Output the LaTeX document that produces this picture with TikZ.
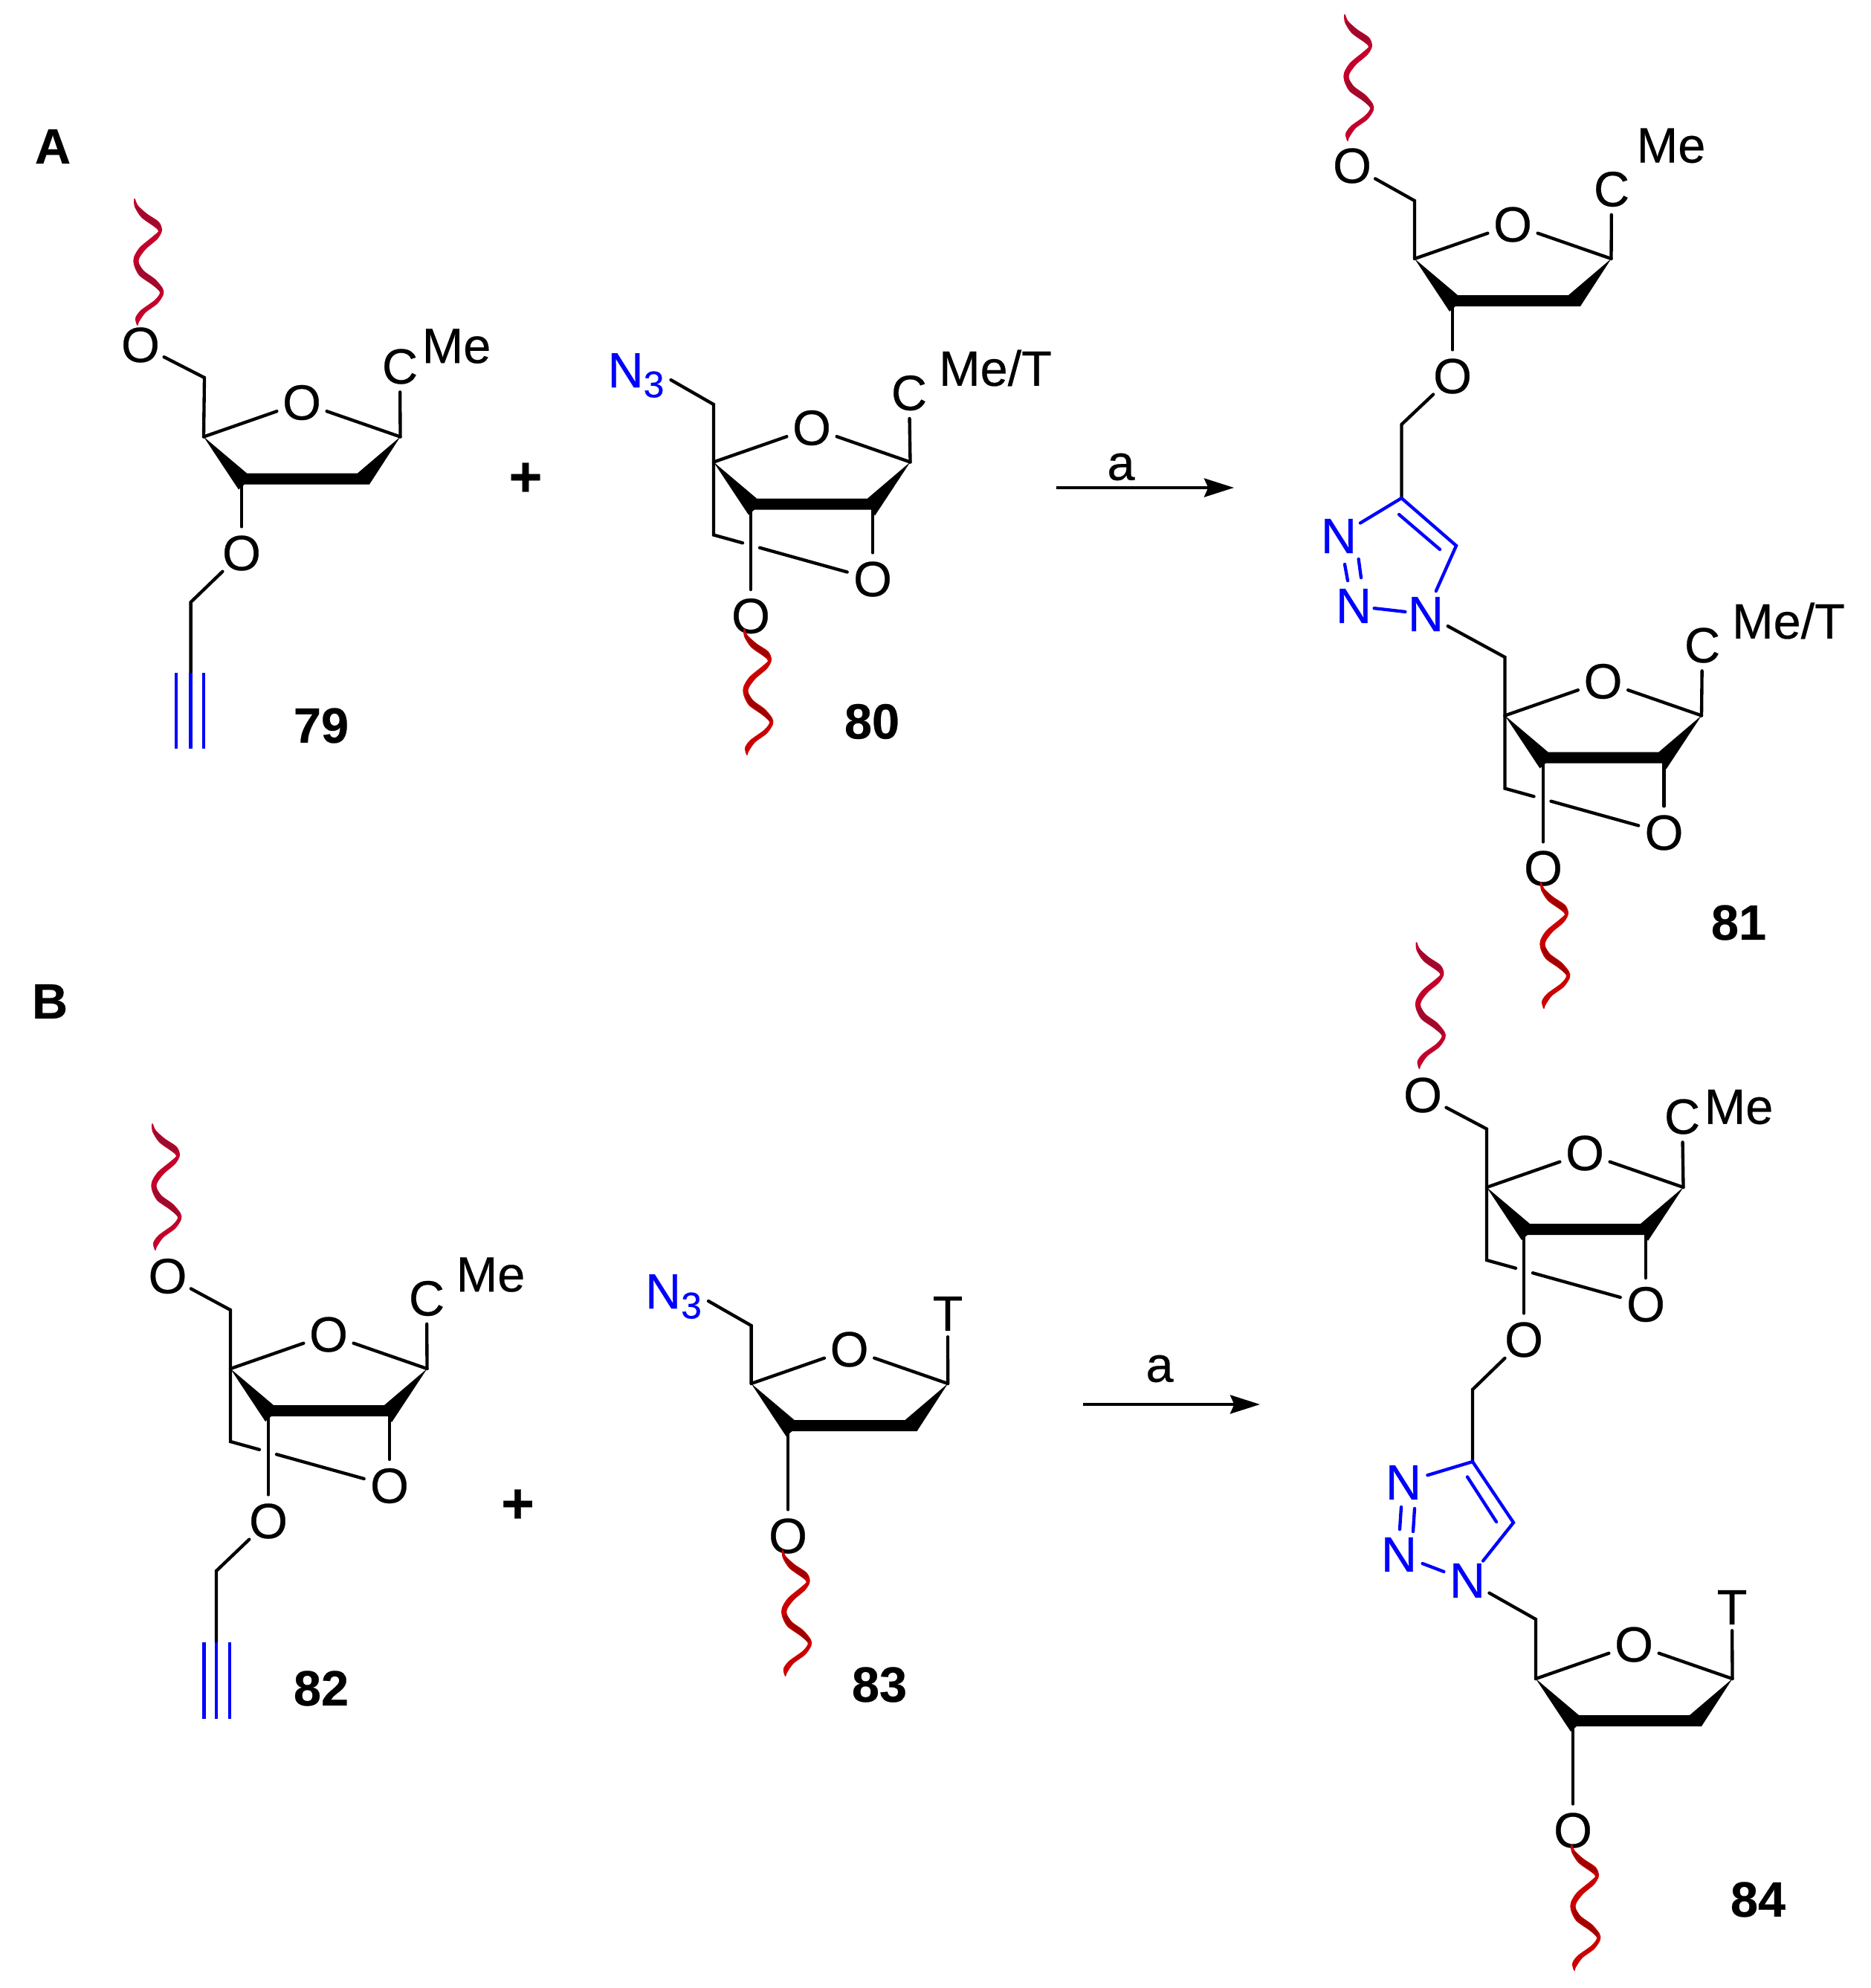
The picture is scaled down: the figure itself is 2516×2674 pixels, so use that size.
\documentclass[tikz,border=0pt]{standalone}
\usepackage{fontspec}
\setmainfont{Liberation Sans}[FakeBold=0.4]
\usetikzlibrary{arrows.meta}
\definecolor{wigAd}{HTML}{9E0A2C}
\definecolor{wigAb}{HTML}{C4002A}
\definecolor{wigBd}{HTML}{A00000}
\definecolor{wigBb}{HTML}{CC0000}
\definecolor{azure}{HTML}{0000FF}
\tikzset{
  atom/.style={circle,inner sep=0pt,font=\fontsize{20}{24}\selectfont},
  bluatom/.style={atom,text=azure},
  sublabel/.style={inner sep=0pt,font=\fontsize{20}{24}\selectfont},
  azide/.style={inner sep=0pt,text=azure,font=\fontsize{20}{24}\selectfont},
  numlabel/.style={inner sep=0pt,font=\fontsize{20}{24}\selectfont\bfseries},
  pluslabel/.style={inner sep=0pt,font=\fontsize{23}{24}\selectfont\bfseries},
  bond/.style={line width=1.3pt,line cap=round,line join=miter},
  blubond/.style={bond,draw=azure},
  triple/.style={line width=1.3pt,draw=azure},
  rxn/.style={line width=1.25pt,-{Stealth[length=12pt,width=7.5pt,inset=1.6pt]}},
  ribbon/.style={line width=0.55pt,line join=round}
}
% wiggle: x, y, dark colour, bright colour
\newcommand{\wig}[4]{%
\begin{scope}[shift={(#1,#2)}]
\filldraw[ribbon,#4] plot[smooth] coordinates {(0,0)(4,9)(16,20)(32,31)(36,42)(30,53)(15,66)(6,78)(5,86)(12,97)(27,108)(37,120)(38,128)(30,140)(14,152)(5,165)(4,169)}
  -- plot[smooth] coordinates {(4,169)(2,160)(9,150)(28,136)(35,125)(25,115)(7,102)(0,88)(0,78)(8,65)(26,50)(33,43)(28,37)(10,24)(1,10)(0,0)} -- cycle;
\fill[#3] (4,9)--(16,20)--(32,31)--(35,38)--(28,37)--(10,24)--(1,10)--cycle;
\fill[#3] (5,86)--(12,97)--(27,108)--(37,120)--(34,124)--(25,115)--(7,102)--(1,90)--cycle;
\end{scope}}
% common part of a sugar ring: prefix, x, y of C4'
\newcommand{\ringtop}[3]{%
\coordinate (#1four) at (#2,#3);
\coordinate (#1one) at (#2+264.5,#3);
\coordinate (#1mid) at (#2,#3+60);
\node[atom] (#1O) at (#2+132,#3-46) {O};
\draw[bond] (#1four) -- (#1O);
\draw[bond] (#1O) -- (#1one);}
% deoxyribose ring
\newcommand{\riboring}[3]{%
\ringtop{#1}{#2}{#3}
\fill (#2,#3) -- (#2+58,#3+49) -- (#2+207,#3+49) -- (#2+264.5,#3) -- (#2+223,#3+64) -- (#2+55,#3+64) -- (#2+47,#3+71) -- cycle;}
% locked ring with its bridge
\newcommand{\lockring}[3]{%
\ringtop{#1}{#2}{#3}
\fill (#2,#3) -- (#2+58,#3+49) -- (#2+207,#3+49) -- (#2+264.5,#3) -- (#2+217,#3+72) -- (#2+212,#3+64) -- (#2+55,#3+64) -- (#2+47,#3+71) -- cycle;
\coordinate (#1six) at (#2,#3+98);
\coordinate (#1brka) at (#2+39,#3+108.8);
\coordinate (#1brkb) at (#2+62,#3+115.2);
\node[atom] (#1Ob) at (#2+214,#3+157.5) {O};
\draw[bond] (#1four) -- (#1six) -- (#1brka);
\draw[bond] (#1brkb) -- (#1Ob);
\draw[bond] (#1Ob |- #1mid) -- (#1Ob);}
\begin{document}
\begin{tikzpicture}[x=0.3pt,y=-0.3pt]
\useasboundingbox (0,0) rectangle (2516,2674);
\fill[white] (0,0) rectangle (2516,2674);

\node[numlabel] (labA) at (71,197) {A};
\node[numlabel] (labB) at (67,1347) {B};

% ---------- 79
\riboring{a}{274}{587.5}
\coordinate (acsix) at (275,508);
\node[atom] (aOf) at (189,464) {O};
\node[atom] (aOt) at (325,744) {O};
\node[atom] (aC) at (538,493) {C};
\node[sublabel] (aMe) at (614,465.6) {Me};
\coordinate (alink) at (256.6,810);
\coordinate (atrip) at (256.6,905);
\coordinate (atripa) at (237,905);
\coordinate (atripb) at (274,905);
\coordinate (atripc) at (256.6,1007);
\coordinate (atripd) at (237,1007);
\coordinate (atripe) at (274,1007);
\draw[bond] (aOf) -- (acsix) -- (afour);
\draw[bond] (aone) -- (aC);
\draw[bond] (aOt |- amid) -- (aOt);
\draw[bond] (aOt) -- (alink) -- (atrip);
\draw[triple] (atrip) -- (atripc);
\draw[triple] (atripa) -- (atripd);
\draw[triple] (atripb) -- (atripe);
\wig{181}{268}{wigAd}{wigAb}
\node[numlabel] (n79) at (432,976) {79};
\node[pluslabel] (plusA) at (707,645) {+};

% ---------- 80
\lockring{b}{960}{621.5}
\coordinate (bcsix) at (960,544);
\coordinate (bazend) at (902.5,511);
\node[azide] (bNt) at (855.5,505) {N\raisebox{-4pt}{\fontsize{15}{15}\selectfont 3}};
\node[atom] (bOt) at (1010,828.6) {O};
\node[atom] (bC) at (1223,528.6) {C};
\node[sublabel] (bMe) at (1339,495) {Me/T};
\draw[bond] (bazend) -- (bcsix) -- (bfour);
\draw[bond] (bone) -- (bC);
\draw[bond] (bOt |- bmid) -- (bOt);
\wig{1001}{846}{wigBd}{wigBb}
\node[numlabel] (n80) at (1173,970.5) {80};

% ---------- arrow A
\coordinate (arra) at (1421,656);
\coordinate (arrb) at (1660,656);
\draw[rxn] (arra) -- (arrb);
\node[sublabel] (laba) at (1508,628) {a};

% ---------- 81
\riboring{c}{1903}{348}
\coordinate (ccsix) at (1903,270);
\node[atom] (cOf) at (1819,223) {O};
\node[atom] (cOt) at (1954,506) {O};
\node[atom] (cC) at (2168,254.5) {C};
\node[sublabel] (cMe) at (2248,196) {Me};
\coordinate (clink) at (1885.4,571);
\coordinate (cCf) at (1885.4,670);
\coordinate (cCg) at (1959,734);
\coordinate (cdba) at (1882,692);
\coordinate (cdbb) at (1937,739);
\coordinate (cnna) at (1809,759);
\coordinate (cnnb) at (1813,781);
\coordinate (cnnc) at (1827.6,752);
\coordinate (cnnd) at (1831,777);
\node[bluatom] (cNa) at (1801,721) {N};
\node[bluatom] (cNb) at (1821,815) {N};
\node[bluatom] (cNc) at (1918,826) {N};
\draw[bond] (cOf) -- (ccsix) -- (cfour);
\draw[bond] (cone) -- (cC);
\draw[bond] (cOt |- cmid) -- (cOt);
\draw[bond] (cOt) -- (clink) -- (cCf);
\draw[blubond] (cNa) -- (cCf) -- (cCg) -- (cNc);
\draw[blubond,shorten >=-1.8pt,shorten <=-1.8pt] (cNb) -- (cNc);
\draw[blubond] (cdba) -- (cdbb);
\draw[blubond] (cnna) -- (cnnb);
\draw[blubond] (cnnc) -- (cnnd);
\wig{1809}{20}{wigAd}{wigAb}
\lockring{d}{2024.5}{962.5}
\coordinate (dcsix) at (2024.5,884);
\node[atom] (dOt) at (2076,1168) {O};
\node[atom] (dC) at (2290,868) {C};
\node[sublabel] (dMe) at (2406,835) {Me/T};
\draw[bond] (cNc) -- (dcsix) -- (dfour);
\draw[bond] (done) -- (dC);
\draw[bond] (dOt |- dmid) -- (dOt);
\wig{2073}{1187}{wigBd}{wigBb}
\node[numlabel] (n81) at (2339,1241) {81};

% ---------- 82
\lockring{e}{310}{1841}
\coordinate (ecsix) at (310,1762);
\node[atom] (eOf) at (225.5,1716.5) {O};
\node[atom] (eOt) at (361,2046) {O};
\node[atom] (eC) at (574,1746.5) {C};
\node[sublabel] (eMe) at (660,1714.5) {Me};
\coordinate (elink) at (291,2113);
\coordinate (etrip) at (291,2209);
\coordinate (etripa) at (274.5,2209);
\coordinate (etripb) at (309,2209);
\coordinate (etripc) at (291,2312);
\coordinate (etripd) at (274.5,2312);
\coordinate (etripe) at (309,2312);
\draw[bond] (eOf) -- (ecsix) -- (efour);
\draw[bond] (eone) -- (eC);
\draw[bond] (eOt |- emid) -- (eOt);
\draw[bond] (eOt) -- (elink) -- (etrip);
\draw[triple] (etrip) -- (etripc);
\draw[triple] (etripa) -- (etripd);
\draw[triple] (etripb) -- (etripe);
\wig{205}{1512}{wigAd}{wigAb}
\node[numlabel] (n82) at (432,2271) {82};
\node[pluslabel] (plusB) at (696.5,2026) {+};

% ---------- 83
\riboring{f}{1010.6}{1861}
\coordinate (fcsix) at (1010.6,1783);
\coordinate (fazend) at (953,1750);
\node[azide] (fNt) at (906,1744) {N\raisebox{-4pt}{\fontsize{15}{15}\selectfont 3}};
\node[atom] (fOt) at (1060,2066) {O};
\node[atom] (fT) at (1275,1767) {T};
\draw[bond] (fazend) -- (fcsix) -- (ffour);
\draw[bond] (fone) -- (fT);
\draw[bond] (fOt |- fmid) -- (fOt);
\wig{1052.7}{2085}{wigBd}{wigBb}
\node[numlabel] (n83) at (1183,2266) {83};

% ---------- arrow B
\coordinate (arrc) at (1457,1889);
\coordinate (arrd) at (1695,1889);
\draw[rxn] (arrc) -- (arrd);
\node[sublabel] (labb) at (1560,1841) {a};

% ---------- 84
\lockring{g}{2000}{1597}
\coordinate (gcsix) at (2000,1518.5);
\node[atom] (gOf) at (1914,1473) {O};
\node[atom] (gOt) at (2050,1802) {O};
\node[atom] (gC) at (2263,1502) {C};
\node[sublabel] (gMe) at (2339,1489) {Me};
\coordinate (glink) at (1981,1869);
\coordinate (gCf) at (1981,1966);
\coordinate (gCg) at (2036,2048);
\coordinate (gdba) at (1974,1986.5);
\coordinate (gdbb) at (2013,2047);
\coordinate (gnna) at (1885,2027);
\coordinate (gnnb) at (1883,2057);
\coordinate (gnnc) at (1903,2029);
\coordinate (gnnd) at (1901,2060);
\node[bluatom] (gNa) at (1888,1994) {N};
\node[bluatom] (gNb) at (1882,2091) {N};
\node[bluatom] (gNc) at (1974,2126) {N};
\draw[bond] (gOf) -- (gcsix) -- (gfour);
\draw[bond] (gone) -- (gC);
\draw[bond] (gOt |- gmid) -- (gOt);
\draw[bond] (gOt) -- (glink) -- (gCf);
\draw[blubond] (gNa) -- (gCf) -- (gCg) -- (gNc);
\draw[blubond] (gNb) -- (gNc);
\draw[blubond] (gdba) -- (gdbb);
\draw[blubond] (gnna) -- (gnnb);
\draw[blubond] (gnnc) -- (gnnd);
\wig{1905.5}{1268}{wigAd}{wigAb}
\riboring{h}{2066}{2258}
\coordinate (hcsix) at (2066,2178);
\node[atom] (hOt) at (2116,2462) {O};
\node[atom] (hT) at (2330,2162) {T};
\draw[bond] (gNc) -- (hcsix) -- (hfour);
\draw[bond] (hone) -- (hT);
\draw[bond] (hOt |- hmid) -- (hOt);
\wig{2114}{2481}{wigBd}{wigBb}
\node[numlabel] (n84) at (2365,2555) {84};
\end{tikzpicture}
\end{document}
